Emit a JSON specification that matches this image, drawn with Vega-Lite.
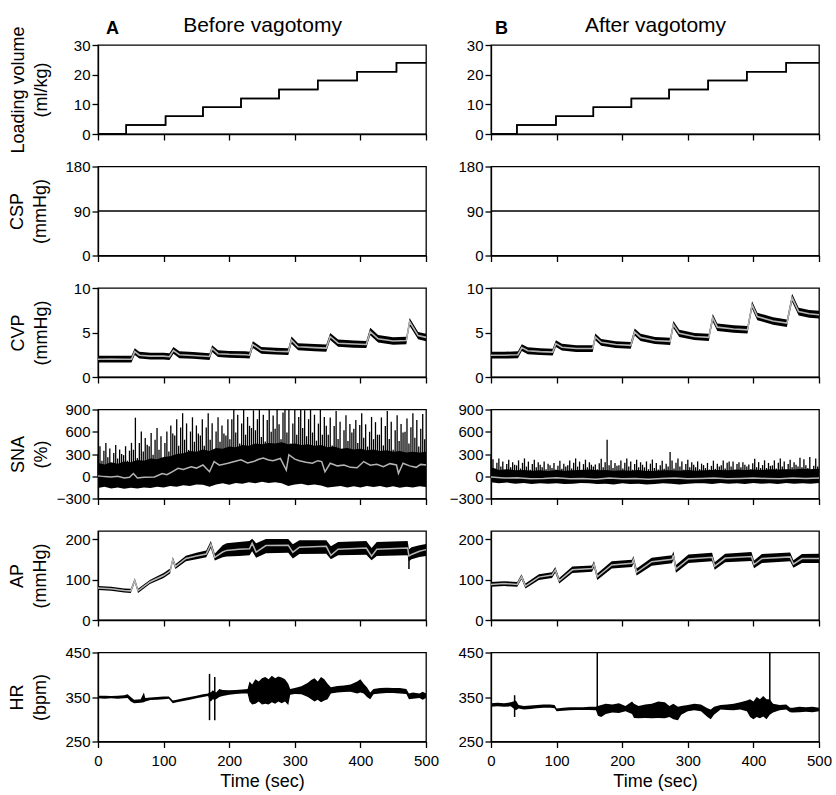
{
 "$schema": "https://vega.github.io/schema/vega-lite/v6.json",
 "padding": {"left": 8, "top": 13, "right": 5, "bottom": 2},
 "config": {
  "font": "Liberation Sans",
  "view": {"stroke": "black", "strokeWidth": 1.3},
  "axis": {"labelFont": "Liberation Sans", "labelFontSize": 15, "labelColor": "black", "titleFont": "Liberation Sans", "titleFontSize": 18, "titleFontWeight": "normal", "titleColor": "black", "tickColor": "black", "domainColor": "black", "tickSize": 6, "tickWidth": 1.3, "domainWidth": 1.3, "labelPadding": 2, "grid": false, "labelFlush": false, "titleLineHeight": 23},
  "title": {"font": "Liberation Sans", "color": "black"}
 },
 "datasets": {
  "loadA": [{"t":0,"v":0},{"t":43,"v":3},{"t":103,"v":6},{"t":160,"v":9},{"t":218,"v":12},{"t":276,"v":15},{"t":335,"v":18},{"t":395,"v":21},{"t":455,"v":24},{"t":500,"v":24}],
  "loadB": [{"t":0,"v":0},{"t":39.5,"v":3},{"t":99,"v":6},{"t":156,"v":9},{"t":214,"v":12},{"t":271.5,"v":15},{"t":331,"v":18},{"t":390,"v":21},{"t":450,"v":24},{"t":500,"v":24}],
  "csp": [{"t":0,"v":90},{"t":500,"v":90}],
  "cvpA": [{"t":0,"lo":1.62,"m":2.0,"hi":2.38},{"t":20,"lo":1.64,"m":2.02,"hi":2.4},{"t":40,"lo":1.62,"m":2.0,"hi":2.38},{"t":51,"lo":1.62,"m":2.0,"hi":2.38},{"t":56,"lo":2.47,"m":2.85,"hi":3.23},{"t":63,"lo":2.07,"m":2.45,"hi":2.83},{"t":80,"lo":1.97,"m":2.35,"hi":2.73},{"t":100,"lo":1.97,"m":2.35,"hi":2.73},{"t":109,"lo":1.9,"m":2.28,"hi":2.66},{"t":115,"lo":2.62,"m":3.0,"hi":3.38},{"t":124,"lo":2.12,"m":2.5,"hi":2.88},{"t":145,"lo":2.04,"m":2.42,"hi":2.8},{"t":170,"lo":1.92,"m":2.3,"hi":2.68},{"t":174,"lo":2.82,"m":3.2,"hi":3.58},{"t":183,"lo":2.24,"m":2.62,"hi":3.0},{"t":200,"lo":2.17,"m":2.55,"hi":2.93},{"t":225,"lo":2.12,"m":2.5,"hi":2.88},{"t":231,"lo":2.07,"m":2.45,"hi":2.83},{"t":236,"lo":3.27,"m":3.65,"hi":4.03},{"t":249,"lo":2.62,"m":3.0,"hi":3.38},{"t":270,"lo":2.52,"m":2.9,"hi":3.28},{"t":290,"lo":2.47,"m":2.85,"hi":3.23},{"t":295,"lo":3.75,"m":4.15,"hi":4.55},{"t":305,"lo":3.0,"m":3.4,"hi":3.8},{"t":330,"lo":2.9,"m":3.3,"hi":3.7},{"t":348,"lo":2.85,"m":3.25,"hi":3.65},{"t":354,"lo":4.15,"m":4.55,"hi":4.95},{"t":366,"lo":3.4,"m":3.8,"hi":4.2},{"t":390,"lo":3.3,"m":3.7,"hi":4.1},{"t":409,"lo":3.25,"m":3.65,"hi":4.05},{"t":415,"lo":4.68,"m":5.1,"hi":5.52},{"t":427,"lo":3.88,"m":4.3,"hi":4.72},{"t":450,"lo":3.63,"m":4.05,"hi":4.47},{"t":470,"lo":3.68,"m":4.1,"hi":4.52},{"t":475,"lo":5.76,"m":6.2,"hi":6.64},{"t":488,"lo":4.23,"m":4.65,"hi":5.07},{"t":500,"lo":4.03,"m":4.45,"hi":4.87}],
  "cvpB": [{"t":0,"lo":2.07,"m":2.45,"hi":2.83},{"t":20,"lo":2.07,"m":2.45,"hi":2.83},{"t":41,"lo":2.12,"m":2.5,"hi":2.88},{"t":47,"lo":2.92,"m":3.3,"hi":3.68},{"t":56,"lo":2.57,"m":2.95,"hi":3.33},{"t":75,"lo":2.47,"m":2.85,"hi":3.23},{"t":94,"lo":2.42,"m":2.8,"hi":3.18},{"t":99,"lo":3.37,"m":3.75,"hi":4.13},{"t":108,"lo":2.97,"m":3.35,"hi":3.73},{"t":130,"lo":2.82,"m":3.2,"hi":3.58},{"t":155,"lo":2.82,"m":3.2,"hi":3.58},{"t":159,"lo":4.12,"m":4.5,"hi":4.88},{"t":168,"lo":3.52,"m":3.9,"hi":4.28},{"t":190,"lo":3.27,"m":3.65,"hi":4.03},{"t":213,"lo":3.17,"m":3.55,"hi":3.93},{"t":219,"lo":4.65,"m":5.05,"hi":5.45},{"t":228,"lo":4.05,"m":4.45,"hi":4.85},{"t":250,"lo":3.7,"m":4.1,"hi":4.5},{"t":273,"lo":3.6,"m":4.0,"hi":4.4},{"t":278,"lo":5.5,"m":5.9,"hi":6.3},{"t":287,"lo":4.5,"m":4.9,"hi":5.3},{"t":310,"lo":4.15,"m":4.55,"hi":4.95},{"t":332,"lo":4.05,"m":4.45,"hi":4.85},{"t":338,"lo":6.23,"m":6.65,"hi":7.07},{"t":345,"lo":5.18,"m":5.6,"hi":6.02},{"t":370,"lo":4.98,"m":5.4,"hi":5.82},{"t":391,"lo":4.88,"m":5.3,"hi":5.72},{"t":398,"lo":7.68,"m":8.1,"hi":8.52},{"t":406,"lo":6.38,"m":6.8,"hi":7.22},{"t":430,"lo":5.88,"m":6.3,"hi":6.72},{"t":451,"lo":5.63,"m":6.05,"hi":6.47},{"t":459,"lo":8.46,"m":8.9,"hi":9.34},{"t":469,"lo":6.91,"m":7.35,"hi":7.79},{"t":485,"lo":6.66,"m":7.1,"hi":7.54},{"t":500,"lo":6.56,"m":7.0,"hi":7.44}],
  "snaCoreA": [{"t":0,"lo":-160,"hi":180},{"t":10,"lo":-140,"hi":160},{"t":20,"lo":-165,"hi":190},{"t":30,"lo":-150,"hi":170},{"t":40,"lo":-170,"hi":200},{"t":50,"lo":-155,"hi":190},{"t":60,"lo":-165,"hi":220},{"t":70,"lo":-150,"hi":210},{"t":80,"lo":-160,"hi":240},{"t":90,"lo":-140,"hi":230},{"t":100,"lo":-150,"hi":260},{"t":110,"lo":-130,"hi":270},{"t":120,"lo":-140,"hi":300},{"t":130,"lo":-120,"hi":310},{"t":140,"lo":-130,"hi":340},{"t":150,"lo":-110,"hi":330},{"t":160,"lo":-115,"hi":360},{"t":170,"lo":-140,"hi":340},{"t":180,"lo":-110,"hi":380},{"t":190,"lo":-95,"hi":370},{"t":200,"lo":-115,"hi":400},{"t":210,"lo":-90,"hi":390},{"t":220,"lo":-100,"hi":420},{"t":230,"lo":-80,"hi":410},{"t":240,"lo":-95,"hi":440},{"t":250,"lo":-75,"hi":430},{"t":260,"lo":-90,"hi":450},{"t":270,"lo":-80,"hi":440},{"t":280,"lo":-95,"hi":460},{"t":290,"lo":-130,"hi":430},{"t":300,"lo":-110,"hi":440},{"t":310,"lo":-100,"hi":420},{"t":320,"lo":-120,"hi":430},{"t":330,"lo":-110,"hi":410},{"t":340,"lo":-125,"hi":420},{"t":350,"lo":-150,"hi":390},{"t":360,"lo":-140,"hi":400},{"t":370,"lo":-130,"hi":370},{"t":380,"lo":-150,"hi":380},{"t":390,"lo":-135,"hi":360},{"t":400,"lo":-150,"hi":370},{"t":410,"lo":-130,"hi":350},{"t":420,"lo":-145,"hi":360},{"t":430,"lo":-130,"hi":340},{"t":440,"lo":-150,"hi":350},{"t":450,"lo":-135,"hi":330},{"t":460,"lo":-155,"hi":340},{"t":470,"lo":-140,"hi":320},{"t":480,"lo":-150,"hi":330},{"t":490,"lo":-135,"hi":320},{"t":500,"lo":-145,"hi":330}],
  "snaMeanA": [{"t":0,"m":5},{"t":10,"m":-5},{"t":20,"m":-10},{"t":30,"m":0},{"t":40,"m":-23},{"t":48,"m":-15},{"t":54,"m":37},{"t":60,"m":-23},{"t":70,"m":-15},{"t":86,"m":-10},{"t":98,"m":37},{"t":105,"m":20},{"t":113,"m":60},{"t":122,"m":106},{"t":130,"m":90},{"t":142,"m":129},{"t":150,"m":110},{"t":160,"m":152},{"t":170,"m":60},{"t":177,"m":198},{"t":185,"m":150},{"t":198,"m":175},{"t":208,"m":200},{"t":218,"m":222},{"t":228,"m":180},{"t":237,"m":198},{"t":245,"m":230},{"t":252,"m":245},{"t":260,"m":220},{"t":267,"m":208},{"t":278,"m":240},{"t":287,"m":83},{"t":291,"m":290},{"t":300,"m":230},{"t":307,"m":208},{"t":317,"m":190},{"t":327,"m":175},{"t":335,"m":210},{"t":341,"m":198},{"t":346,"m":60},{"t":354,"m":175},{"t":365,"m":140},{"t":375,"m":152},{"t":385,"m":120},{"t":395,"m":115},{"t":405,"m":198},{"t":415,"m":150},{"t":425,"m":161},{"t":435,"m":130},{"t":445,"m":170},{"t":455,"m":152},{"t":458,"m":37},{"t":465,"m":175},{"t":475,"m":140},{"t":485,"m":120},{"t":492,"m":160},{"t":500,"m":152}],
  "snaSpkA": [{"t":0,"hi":285},{"t":3,"hi":405},{"t":6,"hi":210},{"t":9,"hi":345},{"t":12,"hi":450},{"t":15,"hi":255},{"t":18,"hi":375},{"t":21,"hi":180},{"t":24,"hi":315},{"t":27,"hi":420},{"t":30,"hi":240},{"t":33,"hi":360},{"t":36,"hi":300},{"t":39,"hi":285},{"t":42,"hi":405},{"t":45,"hi":210},{"t":48,"hi":345},{"t":51,"hi":450},{"t":54,"hi":358},{"t":57,"hi":790},{"t":60,"hi":245},{"t":63,"hi":448},{"t":66,"hi":605},{"t":69,"hi":335},{"t":72,"hi":515},{"t":75,"hi":425},{"t":78,"hi":403},{"t":81,"hi":583},{"t":84,"hi":290},{"t":87,"hi":493},{"t":90,"hi":650},{"t":93,"hi":358},{"t":96,"hi":538},{"t":99,"hi":245},{"t":102,"hi":448},{"t":105,"hi":605},{"t":108,"hi":335},{"t":111,"hi":685},{"t":114,"hi":575},{"t":117,"hi":548},{"t":120,"hi":768},{"t":123,"hi":410},{"t":126,"hi":658},{"t":129,"hi":850},{"t":132,"hi":493},{"t":135,"hi":713},{"t":138,"hi":355},{"t":141,"hi":603},{"t":144,"hi":795},{"t":147,"hi":465},{"t":150,"hi":685},{"t":153,"hi":575},{"t":156,"hi":548},{"t":159,"hi":768},{"t":162,"hi":410},{"t":165,"hi":658},{"t":168,"hi":850},{"t":171,"hi":493},{"t":174,"hi":713},{"t":177,"hi":355},{"t":180,"hi":603},{"t":183,"hi":795},{"t":186,"hi":465},{"t":189,"hi":685},{"t":192,"hi":575},{"t":195,"hi":548},{"t":198,"hi":768},{"t":201,"hi":500},{"t":204,"hi":770},{"t":207,"hi":900},{"t":210,"hi":590},{"t":213,"hi":830},{"t":216,"hi":440},{"t":219,"hi":710},{"t":222,"hi":900},{"t":225,"hi":560},{"t":228,"hi":800},{"t":231,"hi":680},{"t":234,"hi":650},{"t":237,"hi":890},{"t":240,"hi":620},{"t":243,"hi":770},{"t":246,"hi":900},{"t":249,"hi":530},{"t":252,"hi":830},{"t":255,"hi":470},{"t":258,"hi":760},{"t":261,"hi":900},{"t":264,"hi":600},{"t":267,"hi":820},{"t":270,"hi":640},{"t":273,"hi":900},{"t":276,"hi":700},{"t":279,"hi":500},{"t":282,"hi":860},{"t":285,"hi":900},{"t":288,"hi":590},{"t":291,"hi":900},{"t":294,"hi":440},{"t":297,"hi":710},{"t":300,"hi":900},{"t":303,"hi":560},{"t":306,"hi":800},{"t":309,"hi":900},{"t":312,"hi":650},{"t":315,"hi":890},{"t":318,"hi":540},{"t":321,"hi":770},{"t":324,"hi":900},{"t":327,"hi":590},{"t":330,"hi":830},{"t":333,"hi":480},{"t":336,"hi":710},{"t":339,"hi":900},{"t":342,"hi":560},{"t":345,"hi":800},{"t":348,"hi":680},{"t":351,"hi":561},{"t":354,"hi":793},{"t":357,"hi":416},{"t":360,"hi":677},{"t":363,"hi":880},{"t":366,"hi":503},{"t":369,"hi":735},{"t":372,"hi":358},{"t":375,"hi":619},{"t":378,"hi":822},{"t":381,"hi":474},{"t":384,"hi":706},{"t":387,"hi":590},{"t":390,"hi":640},{"t":393,"hi":760},{"t":396,"hi":450},{"t":399,"hi":690},{"t":402,"hi":850},{"t":405,"hi":520},{"t":408,"hi":700},{"t":411,"hi":400},{"t":414,"hi":600},{"t":417,"hi":800},{"t":420,"hi":500},{"t":423,"hi":730},{"t":426,"hi":560},{"t":429,"hi":561},{"t":432,"hi":793},{"t":435,"hi":416},{"t":438,"hi":677},{"t":441,"hi":880},{"t":444,"hi":503},{"t":447,"hi":735},{"t":450,"hi":358},{"t":453,"hi":619},{"t":456,"hi":822},{"t":459,"hi":474},{"t":462,"hi":706},{"t":465,"hi":590},{"t":468,"hi":600},{"t":471,"hi":780},{"t":474,"hi":440},{"t":477,"hi":660},{"t":480,"hi":850},{"t":483,"hi":520},{"t":486,"hi":760},{"t":489,"hi":400},{"t":492,"hi":640},{"t":495,"hi":840},{"t":498,"hi":500}],
  "snaCoreB": [{"t":0,"lo":-80,"hi":120},{"t":12,"lo":-95,"hi":85},{"t":25,"lo":-85,"hi":95},{"t":37,"lo":-100,"hi":80},{"t":50,"lo":-90,"hi":85},{"t":62,"lo":-105,"hi":75},{"t":75,"lo":-95,"hi":80},{"t":87,"lo":-100,"hi":70},{"t":100,"lo":-95,"hi":85},{"t":112,"lo":-105,"hi":75},{"t":125,"lo":-100,"hi":80},{"t":137,"lo":-90,"hi":85},{"t":150,"lo":-95,"hi":90},{"t":162,"lo":-105,"hi":80},{"t":175,"lo":-100,"hi":85},{"t":187,"lo":-110,"hi":75},{"t":200,"lo":-95,"hi":80},{"t":212,"lo":-105,"hi":75},{"t":225,"lo":-100,"hi":85},{"t":237,"lo":-110,"hi":70},{"t":250,"lo":-105,"hi":75},{"t":262,"lo":-95,"hi":80},{"t":275,"lo":-100,"hi":80},{"t":287,"lo":-110,"hi":75},{"t":300,"lo":-100,"hi":85},{"t":312,"lo":-95,"hi":75},{"t":325,"lo":-95,"hi":80},{"t":337,"lo":-105,"hi":85},{"t":350,"lo":-90,"hi":85},{"t":362,"lo":-100,"hi":80},{"t":375,"lo":-95,"hi":90},{"t":387,"lo":-105,"hi":85},{"t":400,"lo":-90,"hi":90},{"t":412,"lo":-100,"hi":85},{"t":425,"lo":-95,"hi":95},{"t":437,"lo":-105,"hi":90},{"t":450,"lo":-90,"hi":95},{"t":462,"lo":-100,"hi":90},{"t":475,"lo":-95,"hi":100},{"t":487,"lo":-100,"hi":95},{"t":500,"lo":-90,"hi":100}],
  "snaMeanB": [{"t":0,"m":-10},{"t":20,"m":-25},{"t":40,"m":-20},{"t":60,"m":-35},{"t":80,"m":-30},{"t":100,"m":-20},{"t":120,"m":-35},{"t":140,"m":-30},{"t":160,"m":-40},{"t":180,"m":-25},{"t":200,"m":-35},{"t":220,"m":-30},{"t":240,"m":-40},{"t":260,"m":-30},{"t":280,"m":-25},{"t":300,"m":-35},{"t":320,"m":-30},{"t":340,"m":-25},{"t":360,"m":-35},{"t":380,"m":-30},{"t":400,"m":-25},{"t":420,"m":-30},{"t":440,"m":-35},{"t":460,"m":-25},{"t":480,"m":-30},{"t":500,"m":-25}],
  "snaSpkB": [{"t":0,"hi":270},{"t":3,"hi":230},{"t":6,"hi":104},{"t":9,"hi":181},{"t":12,"hi":240},{"t":15,"hi":130},{"t":18,"hi":198},{"t":21,"hi":87},{"t":24,"hi":164},{"t":27,"hi":223},{"t":30,"hi":121},{"t":33,"hi":189},{"t":36,"hi":155},{"t":39,"hi":147},{"t":42,"hi":214},{"t":45,"hi":104},{"t":48,"hi":181},{"t":51,"hi":240},{"t":54,"hi":130},{"t":57,"hi":198},{"t":60,"hi":87},{"t":63,"hi":164},{"t":66,"hi":223},{"t":69,"hi":121},{"t":72,"hi":189},{"t":75,"hi":155},{"t":78,"hi":120},{"t":81,"hi":200},{"t":84,"hi":95},{"t":87,"hi":170},{"t":90,"hi":150},{"t":93,"hi":110},{"t":96,"hi":180},{"t":99,"hi":90},{"t":102,"hi":140},{"t":105,"hi":210},{"t":108,"hi":100},{"t":111,"hi":170},{"t":114,"hi":130},{"t":117,"hi":147},{"t":120,"hi":214},{"t":123,"hi":104},{"t":126,"hi":181},{"t":129,"hi":240},{"t":132,"hi":130},{"t":135,"hi":198},{"t":138,"hi":87},{"t":141,"hi":164},{"t":144,"hi":223},{"t":147,"hi":121},{"t":150,"hi":189},{"t":153,"hi":155},{"t":156,"hi":130},{"t":159,"hi":160},{"t":162,"hi":95},{"t":165,"hi":175},{"t":168,"hi":235},{"t":171,"hi":120},{"t":174,"hi":190},{"t":177,"hi":493},{"t":180,"hi":150},{"t":183,"hi":215},{"t":186,"hi":110},{"t":189,"hi":180},{"t":192,"hi":140},{"t":195,"hi":147},{"t":198,"hi":214},{"t":201,"hi":104},{"t":204,"hi":181},{"t":207,"hi":240},{"t":210,"hi":130},{"t":213,"hi":198},{"t":216,"hi":87},{"t":219,"hi":164},{"t":222,"hi":223},{"t":225,"hi":121},{"t":228,"hi":189},{"t":231,"hi":155},{"t":234,"hi":120},{"t":237,"hi":200},{"t":240,"hi":95},{"t":243,"hi":170},{"t":246,"hi":225},{"t":249,"hi":110},{"t":252,"hi":180},{"t":255,"hi":90},{"t":258,"hi":150},{"t":261,"hi":210},{"t":264,"hi":100},{"t":267,"hi":170},{"t":270,"hi":130},{"t":273,"hi":327},{"t":276,"hi":214},{"t":279,"hi":104},{"t":282,"hi":181},{"t":285,"hi":240},{"t":288,"hi":130},{"t":291,"hi":198},{"t":294,"hi":87},{"t":297,"hi":164},{"t":300,"hi":223},{"t":303,"hi":121},{"t":306,"hi":189},{"t":309,"hi":155},{"t":312,"hi":120},{"t":315,"hi":200},{"t":318,"hi":95},{"t":321,"hi":170},{"t":324,"hi":150},{"t":327,"hi":110},{"t":330,"hi":180},{"t":333,"hi":90},{"t":336,"hi":140},{"t":339,"hi":210},{"t":342,"hi":100},{"t":345,"hi":170},{"t":348,"hi":130},{"t":351,"hi":147},{"t":354,"hi":214},{"t":357,"hi":104},{"t":360,"hi":181},{"t":363,"hi":200},{"t":366,"hi":130},{"t":369,"hi":198},{"t":372,"hi":87},{"t":375,"hi":164},{"t":378,"hi":190},{"t":381,"hi":121},{"t":384,"hi":189},{"t":387,"hi":155},{"t":390,"hi":130},{"t":393,"hi":160},{"t":396,"hi":95},{"t":399,"hi":175},{"t":402,"hi":235},{"t":405,"hi":120},{"t":408,"hi":190},{"t":411,"hi":110},{"t":414,"hi":150},{"t":417,"hi":215},{"t":420,"hi":110},{"t":423,"hi":180},{"t":426,"hi":140},{"t":429,"hi":147},{"t":432,"hi":214},{"t":435,"hi":104},{"t":438,"hi":181},{"t":441,"hi":240},{"t":444,"hi":130},{"t":447,"hi":198},{"t":450,"hi":87},{"t":453,"hi":164},{"t":456,"hi":223},{"t":459,"hi":121},{"t":462,"hi":189},{"t":465,"hi":155},{"t":468,"hi":130},{"t":471,"hi":250},{"t":474,"hi":120},{"t":477,"hi":230},{"t":480,"hi":150},{"t":483,"hi":110},{"t":486,"hi":260},{"t":489,"hi":90},{"t":492,"hi":140},{"t":495,"hi":240},{"t":498,"hi":130}],
  "apA": [{"t":0,"lo":74,"m":79,"hi":84},{"t":20,"lo":72,"m":77,"hi":82},{"t":40,"lo":68,"m":73,"hi":78},{"t":50,"lo":67,"m":72,"hi":77},{"t":56,"lo":93,"m":98,"hi":103},{"t":61,"lo":67,"m":72,"hi":77},{"t":79,"lo":89,"m":94,"hi":99},{"t":100,"lo":104,"m":110,"hi":116},{"t":110,"lo":115,"m":121,"hi":127},{"t":114,"lo":144,"m":150,"hi":156},{"t":118,"lo":126,"m":132,"hi":138},{"t":134,"lo":145,"m":152,"hi":159},{"t":150,"lo":150,"m":158,"hi":166},{"t":165,"lo":155,"m":163,"hi":172},{"t":172,"lo":178,"m":187,"hi":195},{"t":178,"lo":147,"m":155,"hi":164},{"t":190,"lo":155,"m":168,"hi":185},{"t":196,"lo":157,"m":172,"hi":190},{"t":215,"lo":158,"m":175,"hi":193},{"t":231,"lo":160,"m":176,"hi":195},{"t":235,"lo":170,"m":190,"hi":201},{"t":241,"lo":154,"m":168,"hi":190},{"t":256,"lo":165,"m":184,"hi":200},{"t":290,"lo":166,"m":185,"hi":200},{"t":297,"lo":152,"m":167,"hi":187},{"t":307,"lo":163,"m":180,"hi":197},{"t":348,"lo":164,"m":182,"hi":197},{"t":355,"lo":150,"m":160,"hi":182},{"t":366,"lo":160,"m":175,"hi":193},{"t":409,"lo":161,"m":178,"hi":195},{"t":417,"lo":148,"m":158,"hi":178},{"t":425,"lo":158,"m":175,"hi":193},{"t":472,"lo":160,"m":178,"hi":195},{"t":474,"lo":145,"m":158,"hi":175},{"t":478,"lo":150,"m":162,"hi":180},{"t":490,"lo":156,"m":170,"hi":185},{"t":500,"lo":158,"m":174,"hi":188}],
  "apSpkA": [{"t":474,"lo":126,"hi":165}],
  "apB": [{"t":0,"lo":82,"m":88,"hi":94},{"t":20,"lo":84,"m":90,"hi":96},{"t":40,"lo":82,"m":88,"hi":94},{"t":46.5,"lo":101,"m":107,"hi":113},{"t":52.5,"lo":78,"m":84,"hi":90},{"t":73,"lo":99,"m":106,"hi":113},{"t":93,"lo":104,"m":111,"hi":118},{"t":98,"lo":117,"m":124,"hi":131},{"t":104,"lo":90,"m":97,"hi":104},{"t":124,"lo":116,"m":124,"hi":132},{"t":154,"lo":119,"m":127,"hi":135},{"t":157,"lo":130,"m":138,"hi":146},{"t":162,"lo":99,"m":107,"hi":115},{"t":184,"lo":127,"m":136,"hi":145},{"t":215,"lo":131,"m":140,"hi":149},{"t":217,"lo":140,"m":149,"hi":158},{"t":222,"lo":110,"m":118,"hi":127},{"t":245,"lo":134,"m":144,"hi":154},{"t":276,"lo":140,"m":150,"hi":160},{"t":278,"lo":150,"m":160,"hi":170},{"t":282,"lo":117,"m":126,"hi":136},{"t":301,"lo":141,"m":151,"hi":162},{"t":337,"lo":145,"m":155,"hi":166},{"t":341,"lo":124,"m":133,"hi":143},{"t":357,"lo":143,"m":153,"hi":164},{"t":397,"lo":146,"m":157,"hi":168},{"t":401,"lo":128,"m":137,"hi":147},{"t":413,"lo":141,"m":152,"hi":163},{"t":456,"lo":145,"m":156,"hi":167},{"t":461,"lo":129,"m":138,"hi":148},{"t":474,"lo":141,"m":152,"hi":163},{"t":500,"lo":141,"m":152,"hi":164}],
  "hrA": [{"t":0,"lo":347,"hi":353},{"t":10,"lo":346,"hi":353},{"t":20,"lo":347,"hi":352},{"t":30,"lo":346,"hi":353},{"t":40,"lo":347,"hi":354},{"t":45,"lo":348,"hi":356},{"t":50,"lo":340,"hi":350},{"t":55,"lo":336,"hi":344},{"t":65,"lo":337,"hi":345},{"t":70,"lo":338,"hi":360},{"t":72,"lo":340,"hi":348},{"t":80,"lo":343,"hi":349},{"t":90,"lo":344,"hi":350},{"t":100,"lo":345,"hi":351},{"t":108,"lo":346,"hi":351},{"t":114,"lo":336,"hi":342},{"t":120,"lo":338,"hi":344},{"t":130,"lo":341,"hi":347},{"t":140,"lo":344,"hi":350},{"t":150,"lo":347,"hi":353},{"t":160,"lo":350,"hi":356},{"t":168,"lo":352,"hi":358},{"t":170,"lo":342,"hi":362},{"t":172,"lo":340,"hi":360},{"t":175,"lo":345,"hi":365},{"t":178,"lo":344,"hi":362},{"t":180,"lo":345,"hi":360},{"t":185,"lo":350,"hi":368},{"t":190,"lo":352,"hi":366},{"t":200,"lo":355,"hi":365},{"t":210,"lo":357,"hi":366},{"t":220,"lo":358,"hi":367},{"t":228,"lo":358,"hi":368},{"t":231,"lo":340,"hi":385},{"t":235,"lo":333,"hi":378},{"t":240,"lo":335,"hi":390},{"t":245,"lo":340,"hi":385},{"t":250,"lo":333,"hi":392},{"t":255,"lo":335,"hi":395},{"t":260,"lo":333,"hi":390},{"t":265,"lo":338,"hi":398},{"t":270,"lo":335,"hi":392},{"t":275,"lo":340,"hi":396},{"t":280,"lo":336,"hi":394},{"t":285,"lo":340,"hi":390},{"t":290,"lo":332,"hi":380},{"t":293,"lo":355,"hi":368},{"t":300,"lo":357,"hi":370},{"t":310,"lo":356,"hi":374},{"t":320,"lo":350,"hi":382},{"t":325,"lo":345,"hi":388},{"t":330,"lo":340,"hi":392},{"t":335,"lo":344,"hi":385},{"t":340,"lo":338,"hi":395},{"t":345,"lo":342,"hi":390},{"t":350,"lo":345,"hi":380},{"t":355,"lo":358,"hi":372},{"t":365,"lo":360,"hi":375},{"t":375,"lo":361,"hi":376},{"t":385,"lo":362,"hi":378},{"t":395,"lo":358,"hi":385},{"t":400,"lo":360,"hi":390},{"t":405,"lo":358,"hi":380},{"t":410,"lo":350,"hi":372},{"t":415,"lo":345,"hi":360},{"t":420,"lo":356,"hi":368},{"t":430,"lo":358,"hi":370},{"t":440,"lo":359,"hi":371},{"t":450,"lo":359,"hi":370},{"t":460,"lo":358,"hi":370},{"t":470,"lo":357,"hi":368},{"t":474,"lo":345,"hi":358},{"t":480,"lo":346,"hi":360},{"t":490,"lo":348,"hi":358},{"t":495,"lo":344,"hi":362},{"t":500,"lo":348,"hi":358}],
  "hrSpkA": [{"t":170,"lo":298,"hi":402},{"t":178,"lo":298,"hi":395}],
  "hrB": [{"t":0,"lo":328,"hi":336},{"t":10,"lo":329,"hi":337},{"t":20,"lo":328,"hi":336},{"t":30,"lo":329,"hi":338},{"t":34,"lo":325,"hi":340},{"t":38,"lo":320,"hi":342},{"t":42,"lo":324,"hi":332},{"t":50,"lo":322,"hi":330},{"t":60,"lo":323,"hi":331},{"t":70,"lo":325,"hi":332},{"t":80,"lo":326,"hi":333},{"t":90,"lo":326,"hi":333},{"t":97,"lo":325,"hi":332},{"t":100,"lo":318,"hi":324},{"t":110,"lo":319,"hi":326},{"t":120,"lo":320,"hi":327},{"t":130,"lo":321,"hi":327},{"t":140,"lo":321,"hi":327},{"t":150,"lo":321,"hi":328},{"t":160,"lo":320,"hi":328},{"t":163,"lo":308,"hi":330},{"t":168,"lo":305,"hi":332},{"t":175,"lo":312,"hi":335},{"t":185,"lo":315,"hi":333},{"t":195,"lo":314,"hi":336},{"t":205,"lo":318,"hi":330},{"t":215,"lo":312,"hi":340},{"t":218,"lo":303,"hi":335},{"t":225,"lo":302,"hi":330},{"t":235,"lo":303,"hi":333},{"t":245,"lo":302,"hi":335},{"t":255,"lo":303,"hi":340},{"t":265,"lo":302,"hi":338},{"t":272,"lo":305,"hi":330},{"t":278,"lo":300,"hi":335},{"t":285,"lo":298,"hi":328},{"t":290,"lo":310,"hi":330},{"t":300,"lo":318,"hi":332},{"t":310,"lo":320,"hi":335},{"t":320,"lo":318,"hi":333},{"t":330,"lo":305,"hi":325},{"t":335,"lo":300,"hi":322},{"t":340,"lo":310,"hi":328},{"t":350,"lo":322,"hi":332},{"t":360,"lo":321,"hi":333},{"t":370,"lo":320,"hi":335},{"t":380,"lo":322,"hi":338},{"t":390,"lo":318,"hi":342},{"t":395,"lo":305,"hi":345},{"t":400,"lo":300,"hi":340},{"t":405,"lo":305,"hi":350},{"t":410,"lo":302,"hi":345},{"t":415,"lo":306,"hi":352},{"t":420,"lo":300,"hi":345},{"t":425,"lo":310,"hi":345},{"t":430,"lo":315,"hi":335},{"t":440,"lo":320,"hi":332},{"t":450,"lo":322,"hi":333},{"t":456,"lo":316,"hi":326},{"t":460,"lo":315,"hi":326},{"t":470,"lo":316,"hi":328},{"t":480,"lo":317,"hi":327},{"t":490,"lo":316,"hi":328},{"t":500,"lo":318,"hi":326}],
  "hrSpkB": [{"t":36,"lo":305,"hi":354},{"t":162,"lo":320,"hi":450},{"t":425,"lo":320,"hi":450}]
 },
 "columns": 2,
 "spacing": {"row": 32.5, "column": 65},
 "bounds": "flush",
 "resolve": {"scale": {"x": "independent", "y": "independent"}},
 "concat": [
  {"width": 328, "height": 89,
   "title": {"text": "A", "anchor": "start", "frame": "group", "fontSize": 18, "fontWeight": "bold", "dx": 8, "offset": 0, "dy": 24},
   "resolve": {"axis": {"x": "independent"}},
   "layer": [
    {"data": {"name": "loadA"}, "mark": {"type": "line", "interpolate": "step-after", "color": "black", "strokeWidth": 1.5},
     "encoding": {"x": {"field": "t", "type": "quantitative", "scale": {"domain": [0, 500]}, "axis": {"values": [0,100,200,300,400,500], "labels": false, "title": null}},
                  "y": {"field": "v", "type": "quantitative", "scale": {"domain": [0, 30]}, "axis": {"values": [0,10,20,30], "title": ["Loading volume", "(ml/kg)"], "titlePadding": 23}}}},
    {"data": {"name": "loadA"}, "mark": {"type": "line", "interpolate": "step-after", "color": "black", "strokeWidth": 1.5},
     "encoding": {"x": {"field": "t", "type": "quantitative", "scale": {"domain": [0, 500]}, "axis": {"orient": "top", "labels": false, "ticks": false, "domain": false, "title": "Before vagotomy", "titleFontSize": 21, "titlePadding": 14, "titleBaseline": "alphabetic"}},
                  "y": {"field": "v", "type": "quantitative", "scale": {"domain": [0, 30]}, "axis": {"values": [0,10,20,30], "title": ["Loading volume", "(ml/kg)"], "titlePadding": 23}}}}
   ]},
  {"width": 328, "height": 89,
   "title": {"text": "B", "anchor": "start", "frame": "group", "fontSize": 18, "fontWeight": "bold", "dx": 4, "offset": 0, "dy": 24},
   "resolve": {"axis": {"x": "independent"}},
   "layer": [
    {"data": {"name": "loadB"}, "mark": {"type": "line", "interpolate": "step-after", "color": "black", "strokeWidth": 1.5},
     "encoding": {"x": {"field": "t", "type": "quantitative", "scale": {"domain": [0, 500]}, "axis": {"values": [0,100,200,300,400,500], "labels": false, "title": null}},
                  "y": {"field": "v", "type": "quantitative", "scale": {"domain": [0, 30]}, "axis": {"values": [0,10,20,30], "title": null}}}},
    {"data": {"name": "loadB"}, "mark": {"type": "line", "interpolate": "step-after", "color": "black", "strokeWidth": 1.5},
     "encoding": {"x": {"field": "t", "type": "quantitative", "scale": {"domain": [0, 500]}, "axis": {"orient": "top", "labels": false, "ticks": false, "domain": false, "title": "After vagotomy", "titleFontSize": 21, "titlePadding": 14, "titleBaseline": "alphabetic"}},
                  "y": {"field": "v", "type": "quantitative", "scale": {"domain": [0, 30]}, "axis": {"values": [0,10,20,30], "title": null}}}}
   ]},
  {"width": 328, "height": 89, "data": {"name": "csp"},
   "mark": {"type": "line", "color": "black", "strokeWidth": 1.3},
   "encoding": {"x": {"field": "t", "type": "quantitative", "scale": {"domain": [0, 500]}, "axis": {"values": [0,100,200,300,400,500], "labels": false, "title": null}},
                "y": {"field": "v", "type": "quantitative", "scale": {"domain": [0, 180]}, "axis": {"values": [0,90,180], "title": ["CSP", "(mmHg)"], "titlePadding": 15}}}},
  {"width": 328, "height": 89, "data": {"name": "csp"},
   "mark": {"type": "line", "color": "black", "strokeWidth": 1.3},
   "encoding": {"x": {"field": "t", "type": "quantitative", "scale": {"domain": [0, 500]}, "axis": {"values": [0,100,200,300,400,500], "labels": false, "title": null}},
                "y": {"field": "v", "type": "quantitative", "scale": {"domain": [0, 180]}, "axis": {"values": [0,90,180], "title": null}}}},
  {"width": 328, "height": 89, "data": {"name": "cvpA"},
   "encoding": {"x": {"field": "t", "type": "quantitative", "scale": {"domain": [0, 500]}, "axis": {"values": [0,100,200,300,400,500], "labels": false, "title": null}}},
   "layer": [
    {"mark": {"type": "area", "color": "black"}, "encoding": {"y": {"field": "lo", "type": "quantitative", "scale": {"domain": [0, 10]}, "axis": {"values": [0,5,10], "title": ["CVP", "(mmHg)"], "titlePadding": 23}}, "y2": {"field": "hi"}}},
    {"mark": {"type": "line", "color": "#b4b4b4", "strokeWidth": 1.6}, "encoding": {"y": {"field": "m", "type": "quantitative", "scale": {"domain": [0, 10]}, "axis": {"values": [0,5,10], "title": ["CVP", "(mmHg)"], "titlePadding": 23}}}}
   ]},
  {"width": 328, "height": 89, "data": {"name": "cvpB"},
   "encoding": {"x": {"field": "t", "type": "quantitative", "scale": {"domain": [0, 500]}, "axis": {"values": [0,100,200,300,400,500], "labels": false, "title": null}}},
   "layer": [
    {"mark": {"type": "area", "color": "black"}, "encoding": {"y": {"field": "lo", "type": "quantitative", "scale": {"domain": [0, 10]}, "axis": {"values": [0,5,10], "title": null}}, "y2": {"field": "hi"}}},
    {"mark": {"type": "line", "color": "#b4b4b4", "strokeWidth": 1.6}, "encoding": {"y": {"field": "m", "type": "quantitative", "scale": {"domain": [0, 10]}, "axis": {"values": [0,5,10], "title": null}}}}
   ]},
  {"width": 328, "height": 89,
   "encoding": {"x": {"field": "t", "type": "quantitative", "scale": {"domain": [0, 500]}, "axis": {"values": [0,100,200,300,400,500], "labels": false, "title": null}}},
   "layer": [
    {"data": {"name": "snaCoreA"}, "mark": {"type": "area", "color": "black"}, "encoding": {"y": {"field": "lo", "type": "quantitative", "scale": {"domain": [-300, 900]}, "axis": {"values": [-300,0,300,600,900], "title": ["SNA", "(%)"], "titlePadding": 6}}, "y2": {"field": "hi"}}},
    {"data": {"name": "snaSpkA"}, "mark": {"type": "rule", "color": "black", "strokeWidth": 1.3}, "encoding": {"y": {"field": "hi", "type": "quantitative", "scale": {"domain": [-300, 900]}, "axis": {"values": [-300,0,300,600,900], "title": ["SNA", "(%)"], "titlePadding": 6}}, "y2": {"datum": 0}}},
    {"data": {"name": "snaMeanA"}, "mark": {"type": "line", "color": "#b4b4b4", "strokeWidth": 1.5}, "encoding": {"y": {"field": "m", "type": "quantitative", "scale": {"domain": [-300, 900]}, "axis": {"values": [-300,0,300,600,900], "title": ["SNA", "(%)"], "titlePadding": 6}}}}
   ]},
  {"width": 328, "height": 89,
   "encoding": {"x": {"field": "t", "type": "quantitative", "scale": {"domain": [0, 500]}, "axis": {"values": [0,100,200,300,400,500], "labels": false, "title": null}}},
   "layer": [
    {"data": {"name": "snaCoreB"}, "mark": {"type": "area", "color": "black"}, "encoding": {"y": {"field": "lo", "type": "quantitative", "scale": {"domain": [-300, 900]}, "axis": {"values": [-300,0,300,600,900], "title": null}}, "y2": {"field": "hi"}}},
    {"data": {"name": "snaSpkB"}, "mark": {"type": "rule", "color": "black", "strokeWidth": 1.3}, "encoding": {"y": {"field": "hi", "type": "quantitative", "scale": {"domain": [-300, 900]}, "axis": {"values": [-300,0,300,600,900], "title": null}}, "y2": {"datum": 0}}},
    {"data": {"name": "snaMeanB"}, "mark": {"type": "line", "color": "#b4b4b4", "strokeWidth": 1.5}, "encoding": {"y": {"field": "m", "type": "quantitative", "scale": {"domain": [-300, 900]}, "axis": {"values": [-300,0,300,600,900], "title": null}}}}
   ]},
  {"width": 328, "height": 89,
   "encoding": {"x": {"field": "t", "type": "quantitative", "scale": {"domain": [0, 500]}, "axis": {"values": [0,100,200,300,400,500], "labels": false, "title": null}}},
   "layer": [
    {"data": {"name": "apA"}, "mark": {"type": "area", "color": "black"}, "encoding": {"y": {"field": "lo", "type": "quantitative", "scale": {"domain": [0, 220]}, "axis": {"values": [0,100,200], "title": ["AP", "(mmHg)"], "titlePadding": 15}}, "y2": {"field": "hi"}}},
    {"data": {"name": "apSpkA"}, "mark": {"type": "rule", "color": "black", "strokeWidth": 1.5}, "encoding": {"y": {"field": "lo", "type": "quantitative", "scale": {"domain": [0, 220]}, "axis": {"values": [0,100,200], "title": ["AP", "(mmHg)"], "titlePadding": 15}}, "y2": {"field": "hi"}}},
    {"data": {"name": "apA"}, "mark": {"type": "line", "color": "#b4b4b4", "strokeWidth": 1.5}, "encoding": {"y": {"field": "m", "type": "quantitative", "scale": {"domain": [0, 220]}, "axis": {"values": [0,100,200], "title": ["AP", "(mmHg)"], "titlePadding": 15}}}}
   ]},
  {"width": 328, "height": 89,
   "encoding": {"x": {"field": "t", "type": "quantitative", "scale": {"domain": [0, 500]}, "axis": {"values": [0,100,200,300,400,500], "labels": false, "title": null}}},
   "layer": [
    {"data": {"name": "apB"}, "mark": {"type": "area", "color": "black"}, "encoding": {"y": {"field": "lo", "type": "quantitative", "scale": {"domain": [0, 220]}, "axis": {"values": [0,100,200], "title": null}}, "y2": {"field": "hi"}}},
    {"data": {"name": "apB"}, "mark": {"type": "line", "color": "#b4b4b4", "strokeWidth": 1.5}, "encoding": {"y": {"field": "m", "type": "quantitative", "scale": {"domain": [0, 220]}, "axis": {"values": [0,100,200], "title": null}}}}
   ]},
  {"width": 328, "height": 89,
   "encoding": {"x": {"field": "t", "type": "quantitative", "scale": {"domain": [0, 500]}, "axis": {"values": [0,100,200,300,400,500], "labels": true, "labelPadding": 6, "title": "Time (sec)", "titlePadding": 4}}},
   "layer": [
    {"data": {"name": "hrA"}, "mark": {"type": "area", "color": "black"}, "encoding": {"y": {"field": "lo", "type": "quantitative", "scale": {"domain": [250, 450]}, "axis": {"values": [250,350,450], "title": ["HR", "(bpm)"], "titlePadding": 15}}, "y2": {"field": "hi"}}},
    {"data": {"name": "hrSpkA"}, "mark": {"type": "rule", "color": "black", "strokeWidth": 1.5}, "encoding": {"y": {"field": "lo", "type": "quantitative", "scale": {"domain": [250, 450]}, "axis": {"values": [250,350,450], "title": ["HR", "(bpm)"], "titlePadding": 15}}, "y2": {"field": "hi"}}}
   ]},
  {"width": 328, "height": 89,
   "encoding": {"x": {"field": "t", "type": "quantitative", "scale": {"domain": [0, 500]}, "axis": {"values": [0,100,200,300,400,500], "labels": true, "labelPadding": 6, "title": "Time (sec)", "titlePadding": 4}}},
   "layer": [
    {"data": {"name": "hrB"}, "mark": {"type": "area", "color": "black"}, "encoding": {"y": {"field": "lo", "type": "quantitative", "scale": {"domain": [250, 450]}, "axis": {"values": [250,350,450], "title": null}}, "y2": {"field": "hi"}}},
    {"data": {"name": "hrSpkB"}, "mark": {"type": "rule", "color": "black", "strokeWidth": 1.5}, "encoding": {"y": {"field": "lo", "type": "quantitative", "scale": {"domain": [250, 450]}, "axis": {"values": [250,350,450], "title": null}}, "y2": {"field": "hi"}}}
   ]}
 ]
}
